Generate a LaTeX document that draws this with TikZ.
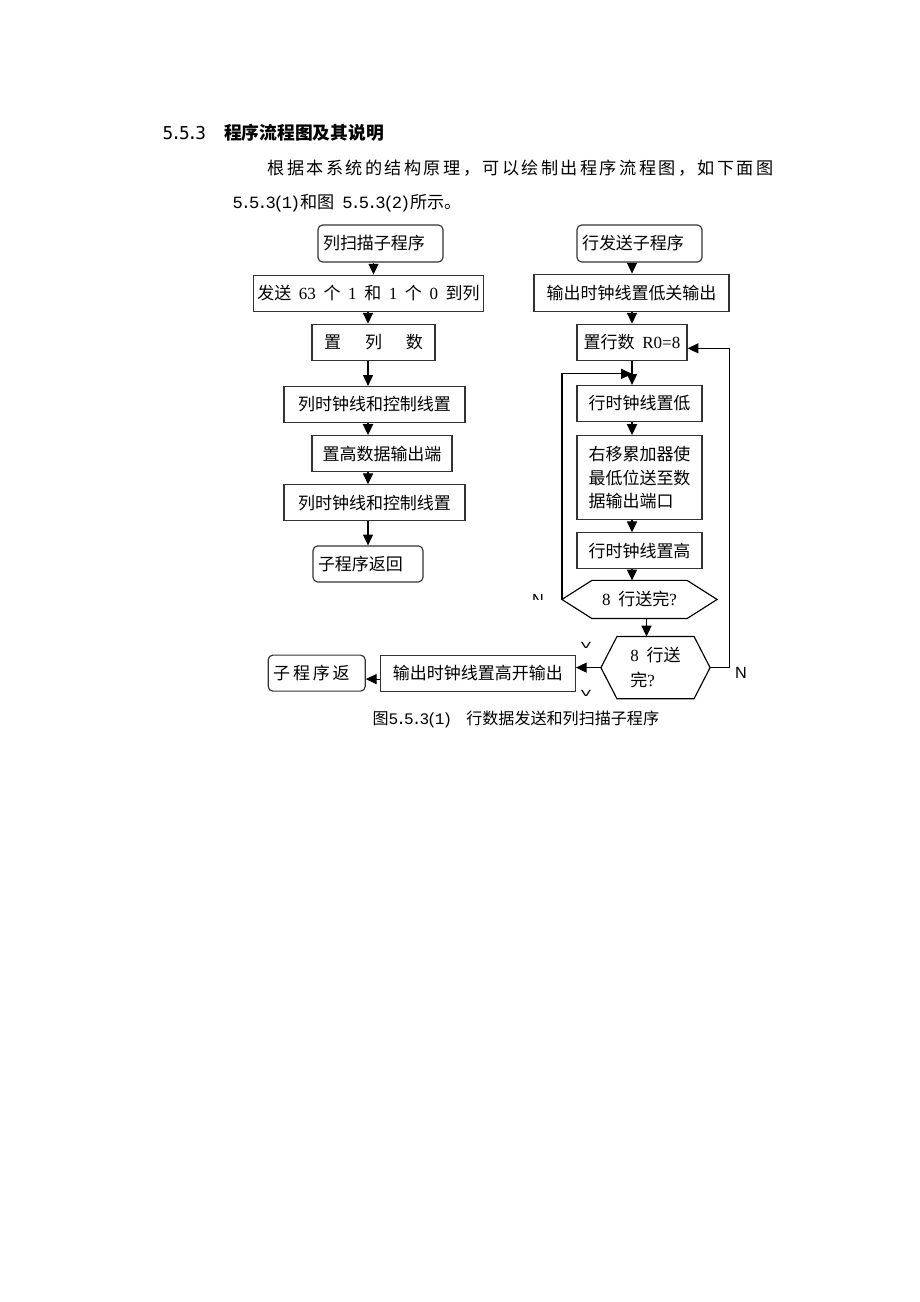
\documentclass[tikz,border=0pt]{standalone}
\usepackage{fontspec}
\setmainfont{Liberation Serif}
\newfontfamily\cjk[WordSpace=2]{Noto Sans CJK SC}
\newfontfamily\cjkwide[LetterSpace=14]{Noto Sans CJK SC}
\newfontfamily\mono[LetterSpace=-12]{Liberation Mono}
\newfontfamily\hmono[LetterSpace=-14]{DejaVu Sans Mono}
\newfontfamily\arial{Liberation Sans}
\usepackage{tikz}
\usetikzlibrary{arrows.meta,positioning}
\newlength\px
\setlength\px{0.6472pt}
\newcommand\hexoutline[2]{\draw[-] (#1.west) -- ([xshift=#2]#1.north west) -- ([xshift=-#2]#1.north east) -- (#1.east) -- ([xshift=-#2]#1.south east) -- ([xshift=#2]#1.south west) -- cycle;}

\begin{document}
\begin{tikzpicture}[->,>={Triangle[length=7pt,width=6.5pt]},x=0.6472pt,y=-0.6472pt,
		line width=0.75pt]
		\tikzstyle{procbox}=[draw=black!80,fill=white,rectangle,minimum height=36\px,inner xsep=4\px,inner ysep=0pt,font=\cjk\fontsize{11}{15.2}\selectfont,align=center]
		\tikzstyle{startbox}=[procbox,rounded corners=3pt,align=left,inner xsep=5\px,minimum height=37\px]
		\tikzstyle{hexbox}=[rectangle,inner sep=0pt,font=\cjk\fontsize{11}{16.2}\selectfont]
		\tikzstyle{lbl}=[inner sep=0pt,font=\arial\fontsize{10.5}{12}\selectfont]
		\tikzstyle{txt}=[anchor=west,inner sep=0pt]

		\fill[white] (0,0) rectangle (920,1302);

		% heading and paragraph
		\node[txt,font=\fontsize{11.5}{14}\selectfont] (secTitle) at (162,133) {{\hmono 5.5.3}\hspace{18\px}{\cjk\bfseries 程序流程图及其说明}};
		\node[txt,font=\cjkwide\fontsize{11.1}{14}\selectfont] (paraA) at (267,168.5) {根据本系统的结构原理，可以绘制出程序流程图，如下面图};
		\node[txt,font=\cjk\fontsize{11.1}{14}\selectfont] (paraB) at (232,203) {{\mono 5.5.3(1)}和图 {\mono 5.5.3(2)}所示。};

		% column scan
		\node[startbox,text width=115\px] (colStart) at (380.5,243.5) {列扫描子程序};
		\node[procbox,minimum width=223\px] (colSend) [below=12\px of colStart,xshift=-12\px] {发送 \textrm{63} 个 \textrm{1} 和 \textrm{1} 个 \textrm{0} 到列};
		\node[procbox,minimum width=123\px] (colNum) [below=12\px of colSend,xshift=5\px] {置\hspace{24\px}列\hspace{24\px}数};
		\node[procbox,minimum width=181\px] (colClk) [below=25\px of colNum,xshift=1\px] {列时钟线和控制线置};
		\node[procbox,minimum width=140\px] (colHigh) [below=12\px of colClk,xshift=7.5\px] {置高数据输出端};
		\node[procbox,minimum width=181\px] (colClk2) [below=12\px of colHigh,xshift=-7.5\px] {列时钟线和控制线置};
		\node[startbox,text width=100\px,minimum height=36\px] (colRet) [below=24\px of colClk2,xshift=-6.5\px] {子程序返回};

		\path[->]
		(colStart.south -| colNum) edge (colSend.north -| colNum)
		(colSend.south -| colRet) edge (colNum.north -| colRet)
		(colNum.south -| colRet) edge (colClk.north -| colRet)
		(colClk.south -| colRet) edge (colHigh.north -| colRet)
		(colHigh.south -| colRet) edge (colClk2.north -| colRet)
		(colClk2.south -| colRet) edge (colRet.north);

		% row send
		\node[startbox,text width=115\px] (rowStart) at (639.5,243.5) {行发送子程序};
		\node[procbox,minimum width=195\px,minimum height=37\px] (rowOff) [below=11\px of rowStart,xshift=-8\px] {输出时钟线置低关输出};
		\node[procbox,minimum width=110\px] (rowNum) [below=12\px of rowOff,xshift=0.5\px] {置行数 \textrm{R0=8}};
		\node[procbox,minimum width=125\px] (rowLow) [below=24\px of rowNum,xshift=7.5\px] {行时钟线置低};
		\node[procbox,minimum width=125\px,minimum height=84\px,align=left] (rowShift) [below=13\px of rowLow] {右移累加器使\\最低位送至数\\据输出端口};
		\node[procbox,minimum width=125\px] (rowHigh) [below=12\px of rowShift] {行时钟线置高};
		\node[hexbox,minimum width=154\px,minimum height=37\px] (rowDone) [below=11\px of rowHigh] {\textrm{8} 行送完\textrm{?}};
		\node[hexbox,minimum width=108\px,minimum height=61\px,align=left] (rowDone2) [below=18\px of rowDone,xshift=16\px] {\textrm{8} 行送\\完\textrm{?}};
		\hexoutline{rowDone}{30\px}
		\hexoutline{rowDone2}{16\px}
		\node[procbox,minimum width=195\px] (rowOn) [left=25\px of rowDone2,yshift=-5.5\px] {输出时钟线置高开输出};
		\node[startbox,text width=87\px,minimum height=36\px] (rowRet) [left=14\px of rowOn] {子\,程\,序\,返};

		\coordinate (loopIn) at ([yshift=-13\px]rowNum.south);
		\coordinate (loopBack) at ([yshift=-6\px]rowNum.east);
		\coordinate (h1out) at ([xshift=7\px]rowDone.south);

		\path[->]
		(rowStart.south -| rowNum) edge (rowOff.north -| rowNum)
		(rowOff.south -| rowNum) edge (rowNum.north)
		(rowNum.south) edge (rowLow.north -| rowNum)
		(rowLow.south -| rowNum) edge (rowShift.north -| rowNum)
		(rowShift.south -| rowNum) edge (rowHigh.north -| rowNum)
		(rowHigh.south -| rowNum) edge (rowDone.north -| rowNum)
		(h1out) edge (h1out |- rowDone2.north)
		(rowDone2.west) edge (rowDone2.west -| rowOn.east)
		([yshift=-6\px]rowOn.west) edge ([yshift=-6\px]rowOn.west -| rowRet.east);
		\draw (rowDone.west) |- (loopIn);
		\draw (rowDone2.east) -| (rowOff.east |- loopBack) -- (loopBack);

		% branch labels
		\node[lbl] (labN) at (741,673) {N};
		\begin{scope}
		\clip (528,590) rectangle (548,599);
		\node[lbl] (labNcut) at (538,600) {N};
		\end{scope}
		\begin{scope}
		\clip (578,638) rectangle (594,647);
		\node[lbl] (labYup) at (586,648) {Y};
		\end{scope}
		\begin{scope}
		\clip (578,686) rectangle (594,695);
		\node[lbl] (labYdown) at (586,696) {Y};
		\end{scope}

		% caption
		\node[txt,font=\cjk\fontsize{10.4}{13}\selectfont] (figCap) at (372,719) {图{\mono 5.5.3(1)}\hspace{14\px}行数据发送和列扫描子程序};
		\end{tikzpicture}
\end{document}
